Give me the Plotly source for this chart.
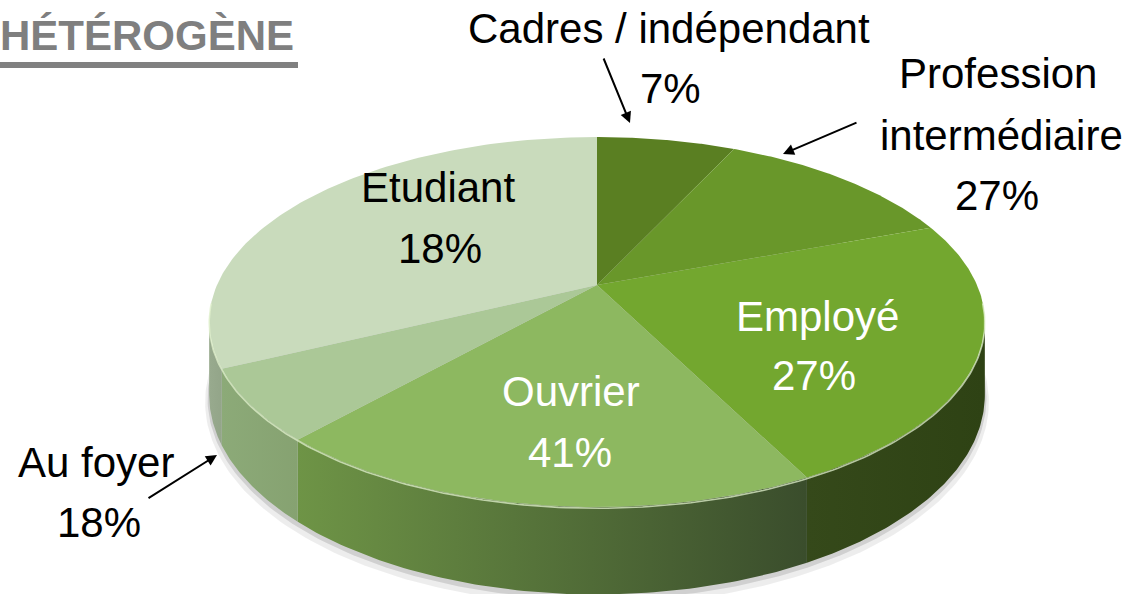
import numpy as np
import plotly.graph_objects as go

# ---------------- data ----------------
categories = ["Cadres / indépendant", "Profession intermédiaire", "Employé",
              "Ouvrier", "Au foyer", "Etudiant"]
# slice sizes as drawn in the picture (share of the disc, %)
shares = [7.0, 12.4, 23.1, 19.2, 6.2, 32.1]
# percentages printed on the labels
pct_labels = ["7%", "27%", "27%", "41%", "18%", "18%"]
title_text = "HÉTÉROGÈNE"

# ---------------- styles / layout constants ----------------
W, H = 1148, 594
CX, CY, A, B, K, DEPTH = 597, 285, 380, 177.6, 0.2, 70
top_colors = ["#5a7f22", "#69972a", "#73a72f", "#8db860", "#abc897", "#c9dbbc"]
side_grad = [("#5a7f22", "#4a6a1c"), ("#587d20", "#4a6a1c"), ("#35491a", "#2e4214"),
             ("#6e9446", "#3a4d2c"), ("#8caa78", "#86a271"), ("#98aa8e", "#93a589")]
label_color = ["black", "black", "white", "white", "black", "black"]
FONT = "Liberation Sans, Arial, sans-serif"
FS = 42
# label lines: (text, center x, baseline y)
label_pos = {
    0: [(None, 669, 43), ("pct", 670, 103)],
    1: [("Profession", 998, 88), ("intermédiaire", 1001, 150), ("pct", 997, 210)],
    2: [(None, 817, 331), ("pct", 814, 390)],
    3: [(None, 571, 406), ("pct", 570, 467)],
    4: [(None, 96, 477), ("pct", 99, 537)],
    5: [(None, 438, 202), ("pct", 440, 263)],
}
arrows = {0: ((603, 57), (630, 123)), 1: ((858, 122), (783, 154)), 4: ((147, 499), (217, 455))}


def proj(theta_deg, depth=0.0, r=1.0):
    t = np.radians(theta_deg)
    u = r * np.sin(t)
    v = r * np.cos(t)
    w = 1 + K * v
    return CX + A * u / w, CY - B * v / w + depth / w


cum = np.concatenate([[0], np.cumsum(shares)]) / sum(shares) * 360
theta_r = np.degrees(np.arccos(-K))
theta_l = 360 - theta_r

fig = go.Figure()

# soft shadow under the disc
for extra, r, op in [(6, 1.010, 0.07), (3, 1.004, 0.12)]:
    th = np.linspace(0, 360, 361)
    x, y = proj(th, DEPTH + extra, r)
    fig.add_trace(go.Scatter(x=x, y=y, fill="toself", mode="lines", line=dict(width=0),
                             fillcolor=f"rgba(0,0,0,{op})", hoverinfo="skip", showlegend=False))

# side walls (front part only)
for i, cat in enumerate(categories):
    a0, a1 = max(cum[i], theta_r), min(cum[i + 1], theta_l)
    if a1 <= a0:
        continue
    th = np.linspace(a0, a1, 80)
    xt, yt = proj(th)
    xb, yb = proj(th[::-1], DEPTH)
    c0, c1 = side_grad[i]
    fig.add_trace(go.Scatter(
        x=np.concatenate([xt, xb]), y=np.concatenate([yt, yb]),
        fill="toself", mode="lines", line=dict(width=0),
        fillgradient=dict(type="horizontal", colorscale=[[0, c0], [1, c1]]),
        hoverinfo="skip", showlegend=False))

# top face slices
for i, cat in enumerate(categories):
    th = np.linspace(cum[i], cum[i + 1], 120)
    xr, yr = proj(th)
    fig.add_trace(go.Scatter(
        x=np.concatenate([[CX], xr, [CX]]), y=np.concatenate([[CY], yr, [CY]]),
        fill="toself", mode="lines", line=dict(width=0), fillcolor=top_colors[i],
        name=cat, text=f"{cat} {pct_labels[i]}", hoverinfo="text", showlegend=False))

# light rim highlight on the front edge
th = np.linspace(theta_r - 6, theta_l + 6, 200)
xr, yr = proj(th, 1.0)
fig.add_trace(go.Scatter(x=xr, y=yr, mode="lines", line=dict(color="rgba(225,242,205,0.75)", width=1.6),
                         hoverinfo="skip", showlegend=False))

annotations = []
for i, lines in label_pos.items():
    for txt, xc, base in lines:
        if txt is None:
            txt = categories[i]
        elif txt == "pct":
            txt = pct_labels[i]
        annotations.append(dict(x=xc, y=base - 0.3465 * FS, text=txt, showarrow=False,
                                xanchor="center", yanchor="middle",
                                font=dict(family=FONT, size=FS, color=label_color[i])))
for i, ((tx, ty), (hx, hy)) in arrows.items():
    annotations.append(dict(x=hx, y=hy, ax=tx, ay=ty, axref="x", ayref="y", text="",
                            showarrow=True, arrowhead=2, arrowsize=1.1, arrowwidth=2,
                            arrowcolor="black", standoff=0, startstandoff=0))
annotations.append(dict(x=0, y=50 - 0.3465 * 42, text=f"<b>{title_text}</b>", showarrow=False,
                        xanchor="left", yanchor="middle", xshift=-2,
                        font=dict(family=FONT, size=42, color="#7f7f7f")))

fig.update_layout(
    width=W, height=H, margin=dict(l=0, r=0, t=0, b=0),
    paper_bgcolor="white", plot_bgcolor="white",
    xaxis=dict(range=[0, W], visible=False, fixedrange=True),
    yaxis=dict(range=[H, 0], visible=False, fixedrange=True),
    annotations=annotations,
    shapes=[dict(type="rect", x0=0, x1=298, y0=62, y1=68, fillcolor="#808080",
                 line=dict(width=0), layer="above")],
)

fig.write_html("out.html", config={"displayModeBar": False},
               post_script="document.body.style.margin='0';document.body.style.overflow='hidden';")
